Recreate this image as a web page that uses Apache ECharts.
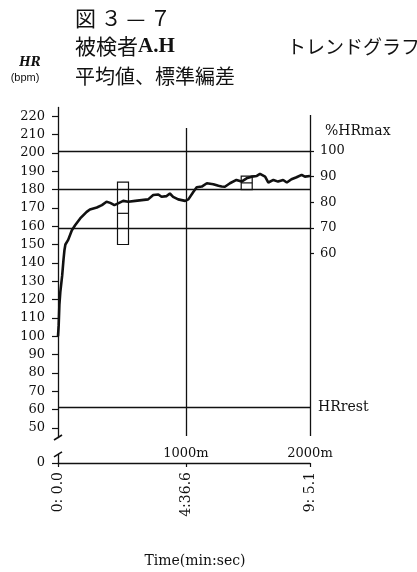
<!DOCTYPE html>
<html>
<head>
<meta charset="utf-8">
<script src="https://cdn.jsdelivr.net/npm/echarts@6/dist/echarts.min.js"></script>
<style>
  html, body { margin: 0; padding: 0; background: #fff; }
  #chart { width: 417px; height: 572px; }
</style>
</head>
<body>
<div id="chart"></div>
<script>
// Heart-rate trend over a 2000 m effort (time in seconds, HR in bpm)
const timeSec = [0, 1.5, 3, 5, 9, 12, 14, 16, 22, 30, 37, 48, 62, 69, 84, 95, 105, 113, 122, 130,
  141, 152, 167, 181, 195, 206, 217, 224, 235, 242, 249, 260, 275, 282, 293, 300, 311, 322, 336,
  347, 354, 361, 372, 386, 397, 408, 419, 430, 437, 448, 455, 466, 476, 487, 495, 505, 516, 527,
  534, 545.1];
const hrBpm = [100, 106, 117, 124, 133, 142, 147, 150, 152.5, 157.8, 160.5, 164.2, 167.8, 169.1,
  170.2, 171.5, 173.3, 172.7, 171.5, 172.4, 173.8, 173.3, 173.8, 174.2, 174.6, 177, 177.3, 176,
  176.4, 177.8, 176, 174.6, 173.8, 174.6, 178.8, 181.2, 181.6, 183.4, 182.9, 182, 181.6, 181.5,
  183.4, 185.2, 184.3, 186.1, 187, 187.4, 188.5, 187, 183.8, 185.2, 184.3, 185.2, 183.8, 185.6,
  186.7, 188, 187, 187.4];

// Mean and standard deviation blocks: [time, mean, sd]
const statTime = [140.6, 408.2];
const statMean = [167, 183.6];
const statSd = [17, 3.7];

// Reference heart rates
const HR_MAX = 201;
const HR_REST = 61;
const zoneLines = [201, 180, 159];

// Split markers along the time axis
const splitTime = [276.6, 545.1];
const splitLabel = ['1000m', '2000m'];

// Tick values
const hrTicks = [0, 50, 60, 70, 80, 90, 100, 110, 120, 130, 140, 150, 160, 170, 180, 190, 200, 210, 220];
const pctTicks = [60, 70, 80, 90, 100];
const timeTicks = [0, 276.6, 545.1];

// Compressed stretch of the HR axis between 0 and 50
const HR_BREAK = { start: 5, end: 45 };

const SERIF = 'DejaVu Serif';
const JP = 'Noto Sans CJK JP';
const INK = '#111';

const pctToBpm = p => HR_REST + p / 100 * (HR_MAX - HR_REST);
const bpmToPct = v => Math.round((v - HR_REST) / (HR_MAX - HR_REST) * 100);

function fmtTime(v) {
  const m = Math.floor(v / 60 + 1e-9);
  const s = (v - m * 60).toFixed(1);
  return m + ':' + s.padStart(4, ' ');
}

const yBase = {
  type: 'value',
  min: 0,
  max: 225,
  breaks: [{ start: HR_BREAK.start, end: HR_BREAK.end, gap: 9.2 }],
  breakArea: { show: false },
  splitLine: { show: false }
};

const titleStyle = (size, extra) => Object.assign({ fontFamily: JP, fontSize: size, fontWeight: 'normal', color: INK }, extra || {});

const chart = echarts.init(document.getElementById('chart'));
chart.setOption({
  animation: false,
  backgroundColor: '#fff',
  title: [
    { text: '図 ３ — ７', left: 70, top: 3, textStyle: titleStyle(21) },
    {
      text: '被検者{s|A.H}', left: 70, top: 31,
      textStyle: titleStyle(21, { rich: { s: { fontFamily: 'Liberation Serif', fontWeight: 'bold', fontSize: 21, color: INK } } })
    },
    { text: 'トレンドグラフ', left: 282, top: 32, textStyle: titleStyle(19) },
    { text: '平均値、標準編差', left: 70, top: 61, textStyle: titleStyle(20) },
    { text: 'HR', left: 25, top: 52, textAlign: 'center', textStyle: { fontFamily: SERIF, fontStyle: 'italic', fontSize: 12, fontWeight: 'bold', color: INK } },
    { text: '(bpm)', left: 20, top: 67, textAlign: 'center', textStyle: { fontFamily: 'Liberation Sans', fontSize: 11, fontWeight: 'normal', color: INK } },
    { text: '%HRmax', left: 320, top: 119, textStyle: { fontFamily: SERIF, fontSize: 14, fontWeight: 'normal', color: INK } },
    { text: 'Time(min:sec)', left: 190, top: 549, textAlign: 'center', textStyle: { fontFamily: SERIF, fontSize: 14, fontWeight: 'normal', color: INK } }
  ],
  grid: { left: 58, right: 107, top: 107, bottom: 109 },
  xAxis: {
    type: 'value',
    min: 0,
    max: 545.1,
    splitLine: { show: false },
    axisLine: { show: true, lineStyle: { color: INK, width: 1.3 } },
    axisTick: { show: true, customValues: timeTicks, length: 4, lineStyle: { color: INK, width: 1.2 } },
    axisLabel: {
      customValues: timeTicks,
      rotate: 90,
      margin: 9,
      formatter: fmtTime,
      fontFamily: SERIF,
      fontSize: 14,
      color: INK
    }
  },
  yAxis: [
    Object.assign({}, yBase, {
      position: 'left',
      axisLine: { show: true, lineStyle: { color: INK, width: 1.3 } },
      axisTick: { show: true, customValues: hrTicks, length: 6, lineStyle: { color: INK, width: 1.2 } },
      axisLabel: { customValues: hrTicks, margin: 13, fontFamily: SERIF, fontSize: 13, color: INK }
    }),
    Object.assign({}, yBase, {
      position: 'right',
      axisLine: { show: false },
      axisTick: { show: true, customValues: pctTicks.map(pctToBpm), length: 4, lineStyle: { color: INK, width: 1.2 } },
      axisLabel: { customValues: pctTicks.map(pctToBpm), margin: 10, formatter: bpmToPct, fontFamily: SERIF, fontSize: 13, color: INK }
    })
  ],
  series: [
    {
      name: 'HR',
      type: 'line',
      data: timeSec.map((t, i) => [t, hrBpm[i]]),
      showSymbol: false,
      lineStyle: { color: INK, width: 2.6 },
      z: 5,
      markLine: {
        silent: true,
        symbol: 'none',
        lineStyle: { color: INK, width: 1.3, type: 'solid' },
        label: { show: false },
        data: zoneLines.map(v => ({ yAxis: v }))
          .concat([{
            yAxis: HR_REST,
            label: { show: true, position: 'end', formatter: 'HRrest', distance: 8, fontFamily: SERIF, fontSize: 14, color: INK }
          }])
          .concat(splitTime.map((t, i) => [
            {
              coord: [t, 45.5],
              label: { show: true, position: 'start', formatter: splitLabel[i], distance: 11, fontFamily: SERIF, fontSize: 13, color: INK }
            },
            { coord: [t, i === 0 ? 213.5 : 220.6] }
          ]))
      }
    },
    {
      name: '平均値・標準偏差',
      type: 'custom',
      z: 6,
      data: statTime.map((t, i) => [t, statMean[i], statSd[i]]),
      renderItem: function (params, api) {
        const t = api.value(0), m = api.value(1), sd = api.value(2);
        const top = api.coord([t, m + sd]);
        const mid = api.coord([t, m]);
        const bot = api.coord([t, m - sd]);
        const w = 11;
        const style = { stroke: INK, lineWidth: 1.2, fill: null };
        return {
          type: 'group',
          children: [
            { type: 'rect', shape: { x: top[0] - w / 2, y: top[1], width: w, height: bot[1] - top[1] }, style: style },
            { type: 'line', shape: { x1: mid[0] - w / 2, y1: mid[1], x2: mid[0] + w / 2, y2: mid[1] }, style: style }
          ]
        };
      }
    }
  ]
});

// Slash marks on the HR axis at both ends of the compressed stretch
const breakEnds = [HR_BREAK.end, HR_BREAK.start].map(v => chart.convertToPixel({ xAxisIndex: 0, yAxisIndex: 0 }, [0, v]));
chart.setOption({
  graphic: breakEnds.map(p => ({
    type: 'line',
    shape: { x1: p[0] - 4, y1: p[1] + 3, x2: p[0] + 4, y2: p[1] - 2 },
    style: { stroke: INK, lineWidth: 1.6 },
    z: 10
  }))
});
</script>
</body>
</html>
